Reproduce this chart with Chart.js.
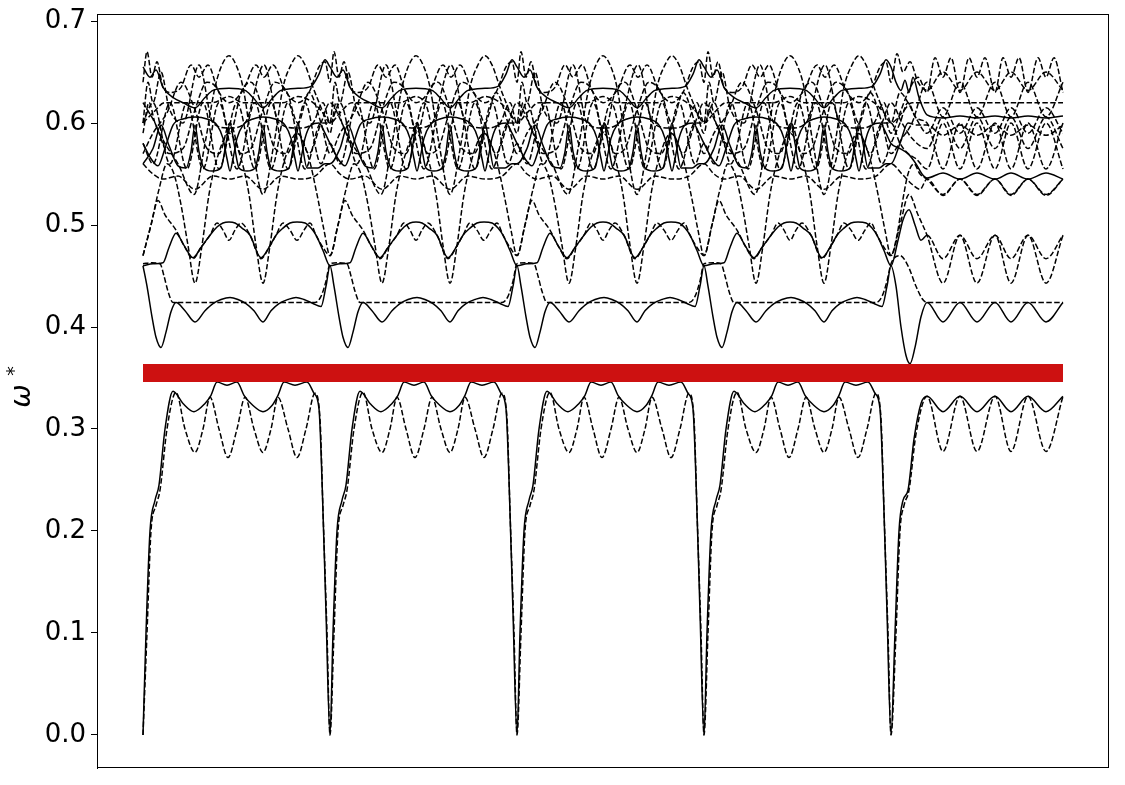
<!DOCTYPE html>
<html>
<head>
<meta charset="utf-8">
<script src="https://cdn.jsdelivr.net/npm/chart.js@4.4.1/dist/chart.umd.min.js"></script>
<style>
  html, body { margin: 0; padding: 0; background: #fff; }
  #wrap { width: 1125px; height: 785px; }
</style>
</head>
<body>
<div id="wrap"><canvas id="bands" width="1125" height="785"></canvas></div>
<script>
// path segments along the x axis (arbitrary k-path units)
const segStart = [0, 187, 374, 561, 749];
const segKind = ['A', 'A', 'A', 'A', 'B'];
const yTicks = [0.0, 0.1, 0.2, 0.3, 0.4, 0.5, 0.6, 0.7];
const gapLevel = 0.355;
const pathEnd = 920;

// --- lowest band, solid / dashed ---
const b1sA = [[0,0],[3,0.1],[7,0.2],[12,0.23],[16,0.245],[22,0.3],[30,0.337],[40,0.325],[51,0.317],[62,0.325],[68,0.333],[74,0.346],[84,0.343],[94,0.346],[101,0.333],[110,0.323],[120,0.317],[129,0.323],[135,0.333],[141,0.346],[152,0.343],[164,0.346],[171,0.335],[176,0.32],[179,0.25],[183,0.12],[187,0]];
const b1sB = [[0,0],[3,0.1],[7,0.2],[11,0.23],[16,0.24],[22,0.29],[29,0.325],[35,0.332],[51,0.317],[68,0.332],[85,0.317],[103,0.332],[119,0.317],[136,0.332],[154,0.317],[171,0.332]];
const b1dA = [[0,0],[4,0.1],[8,0.2],[13,0.225],[17,0.24],[24,0.3],[33,0.336],[42,0.3],[52,0.277],[60,0.3],[67,0.331],[76,0.3],[85,0.272],[94,0.3],[102,0.331],[111,0.3],[120,0.277],[128,0.3],[135,0.331],[145,0.3],[154,0.272],[163,0.3],[172,0.335],[177,0.31],[180,0.22],[184,0.1],[187,0]];
const b1dB = [[0,0],[4,0.1],[8,0.2],[12,0.225],[17,0.24],[24,0.295],[35,0.332],[51,0.278],[68,0.332],[85,0.278],[103,0.332],[119,0.278],[136,0.332],[154,0.278],[171,0.332]];

// --- second band ---
const b2sA = [[0,0.46],[4,0.44],[9,0.41],[13,0.39],[18,0.38],[23,0.395],[28,0.415],[33,0.424],[42,0.416],[52,0.405],[62,0.416],[70,0.423],[78,0.427],[87,0.429],[95,0.427],[103,0.423],[111,0.416],[120,0.405],[128,0.416],[136,0.423],[145,0.427],[153,0.429],[161,0.427],[170,0.423],[178,0.42],[183,0.44],[187,0.46]];
const b2sB = [[0,0.46],[4,0.44],[9,0.4],[14,0.372],[18,0.364],[23,0.38],[29,0.41],[35,0.424],[51,0.405],[68,0.424],[85,0.405],[103,0.424],[119,0.405],[136,0.424],[154,0.405],[171,0.424]];
const b2dA = [[0,0.462],[9,0.463],[17,0.462],[21,0.45],[25,0.435],[30,0.424],[70,0.424],[110,0.424],[150,0.424],[172,0.424],[178,0.43],[183,0.445],[187,0.462]];
const b2dB = [[0,0.462],[8,0.47],[16,0.46],[24,0.44],[30,0.428],[35,0.424],[103,0.424],[171,0.424]];

// --- third band ---
const b3sA = [[0,0.46],[10,0.462],[20,0.463],[26,0.478],[33,0.492],[41,0.48],[50,0.468],[58,0.478],[67,0.49],[74,0.498],[80,0.502],[86,0.503],[92,0.502],[99,0.497],[107,0.49],[118,0.468],[126,0.478],[133,0.49],[140,0.497],[147,0.502],[154,0.503],[162,0.502],[168,0.497],[173,0.49],[180,0.475],[187,0.46]];
const b3sB = [[0,0.46],[6,0.485],[11,0.505],[17,0.515],[23,0.5],[29,0.485],[35,0.49],[51,0.467],[68,0.49],[85,0.467],[103,0.49],[119,0.467],[136,0.49],[154,0.467],[171,0.49]];
const b3daA = [[0,0.47],[8,0.5],[16,0.535],[24,0.56],[31,0.55],[38,0.52],[45,0.48],[52,0.443],[59,0.48],[66,0.53],[74,0.565],[86,0.59],[98,0.565],[106,0.53],[113,0.48],[120,0.443],[127,0.48],[134,0.53],[142,0.565],[154,0.59],[166,0.565],[174,0.53],[181,0.495],[187,0.47]];
const b3daB = [[0,0.47],[8,0.5],[17,0.53],[26,0.51],[35,0.49],[51,0.443],[68,0.49],[85,0.443],[103,0.49],[119,0.443],[136,0.49],[154,0.443],[171,0.49]];
const b3dbA = [[0,0.47],[8,0.5],[15,0.524],[22,0.51],[33,0.495],[42,0.478],[50,0.467],[58,0.478],[67,0.49],[74,0.502],[80,0.495],[86,0.485],[92,0.495],[98,0.502],[107,0.49],[118,0.467],[126,0.478],[133,0.49],[140,0.502],[147,0.495],[154,0.485],[161,0.495],[167,0.502],[173,0.49],[180,0.478],[187,0.47]];
const b3dbB = [[0,0.47],[5,0.49],[10,0.52],[16,0.55],[22,0.56],[28,0.55],[35,0.545],[51,0.53],[68,0.545],[85,0.53],[103,0.545],[119,0.53],[136,0.545],[154,0.53],[171,0.545]];

// --- upper tangle ---
const t1A = [[0,0.59],[6,0.62],[12,0.6],[22,0.58],[35,0.56],[51,0.53],[62,0.58],[72,0.635],[79,0.657],[86,0.666],[93,0.657],[100,0.635],[109,0.58],[120,0.53],[131,0.58],[140,0.635],[148,0.657],[155,0.666],[162,0.657],[170,0.635],[180,0.61],[187,0.59]];
const t1B = [[0,0.59],[8,0.61],[16,0.63],[26,0.645],[35,0.63],[43,0.664],[51,0.645],[59,0.664],[68,0.63],[77,0.664],[85,0.645],[93,0.664],[103,0.63],[111,0.664],[119,0.645],[127,0.664],[136,0.63],[146,0.664],[154,0.645],[162,0.664],[171,0.63]];
const t2A = [[0,0.64],[4,0.67],[9,0.645],[14,0.66],[20,0.635],[28,0.63],[38,0.635],[48,0.657],[56,0.645],[65,0.657],[75,0.632],[86,0.62],[100,0.632],[113,0.657],[121,0.645],[130,0.657],[142,0.632],[155,0.62],[166,0.63],[176,0.655],[182,0.66],[187,0.64]];
const t2B = [[0,0.64],[5,0.668],[11,0.65],[18,0.66],[26,0.64],[35,0.632],[51,0.65],[68,0.632],[85,0.65],[103,0.632],[119,0.65],[136,0.632],[154,0.65],[171,0.632]];
const t3A = [[0,0.655],[7,0.645],[13,0.652],[20,0.635],[30,0.625],[40,0.62],[52,0.615],[62,0.625],[70,0.632],[86,0.634],[102,0.632],[110,0.625],[120,0.615],[130,0.625],[138,0.632],[155,0.634],[168,0.636],[176,0.648],[182,0.662],[187,0.655]];
const t3B = [[0,0.655],[4,0.64],[9,0.632],[13,0.642],[17,0.63],[21,0.645],[27,0.625],[35,0.608],[51,0.605],[68,0.607],[85,0.605],[103,0.607],[119,0.605],[136,0.607],[154,0.605],[171,0.607]];
const t4A = [[0,0.6],[10,0.61],[22,0.62],[52,0.62],[70,0.62],[86,0.626],[100,0.62],[120,0.62],[140,0.62],[155,0.626],[170,0.62],[180,0.61],[187,0.6]];
const t4B = [[0,0.6],[10,0.61],[20,0.62],[35,0.62],[68,0.62],[103,0.62],[136,0.62],[171,0.62]];
const saA = [[0,0.58],[8,0.565],[15,0.558],[22,0.575],[30,0.598],[40,0.604],[52,0.606],[64,0.604],[74,0.598],[80,0.585],[84,0.565],[87,0.553],[90,0.565],[94,0.585],[100,0.598],[110,0.604],[120,0.606],[132,0.604],[142,0.598],[148,0.585],[152,0.565],[155,0.553],[158,0.565],[162,0.585],[168,0.598],[176,0.6],[182,0.59],[187,0.58]];
const saB = [[0,0.58],[8,0.575],[16,0.57],[24,0.56],[30,0.55],[35,0.546],[51,0.551],[68,0.545],[85,0.551],[103,0.545],[119,0.551],[136,0.545],[154,0.551],[171,0.545]];
const sbA = [[0,0.56],[10,0.575],[18,0.598],[26,0.578],[35,0.558],[43,0.556],[48,0.572],[52,0.598],[56,0.572],[61,0.556],[69,0.553],[78,0.556],[83,0.58],[87,0.6],[91,0.58],[96,0.556],[104,0.553],[112,0.556],[116,0.572],[120,0.598],[124,0.572],[128,0.556],[137,0.553],[146,0.556],[151,0.58],[155,0.6],[159,0.58],[164,0.556],[175,0.556],[182,0.56],[187,0.56]];
const sbB = [[0,0.56],[8,0.58],[16,0.6],[25,0.598],[35,0.598],[51,0.588],[68,0.598],[85,0.588],[103,0.598],[119,0.588],[136,0.598],[154,0.588],[171,0.598]];
const d1A = [[0,0.56],[10,0.55],[20,0.545],[35,0.548],[52,0.535],[70,0.548],[86,0.545],[102,0.548],[120,0.535],[138,0.548],[155,0.545],[172,0.548],[187,0.56]];
const d1B = [[0,0.56],[10,0.55],[20,0.54],[28,0.535],[35,0.545],[51,0.529],[68,0.545],[85,0.529],[103,0.545],[119,0.529],[136,0.545],[154,0.529],[171,0.545]];
const d2A = [[0,0.58],[10,0.56],[27,0.62],[44,0.555],[60,0.62],[76,0.555],[94,0.62],[112,0.555],[128,0.62],[145,0.555],[162,0.62],[178,0.56],[187,0.58]];
const d2B = [[0,0.58],[8,0.6],[16,0.62],[24,0.605],[35,0.6],[51,0.555],[68,0.6],[85,0.555],[103,0.6],[119,0.555],[136,0.6],[154,0.555],[171,0.6]];
const d3A = [[0,0.6],[10,0.62],[27,0.56],[44,0.62],[60,0.555],[76,0.62],[94,0.555],[112,0.62],[128,0.555],[145,0.62],[162,0.555],[178,0.6],[187,0.6]];
const d3B = [[0,0.6],[8,0.58],[16,0.57],[24,0.565],[35,0.555],[51,0.6],[68,0.555],[85,0.6],[103,0.555],[119,0.6],[136,0.555],[154,0.6],[171,0.555]];
const d4A = [[0,0.6],[5,0.64],[10,0.62],[18,0.65],[26,0.615],[40,0.6],[56,0.657],[70,0.6],[86,0.595],[102,0.6],[121,0.657],[136,0.6],[155,0.595],[170,0.6],[180,0.62],[187,0.6]];
const d4B = [[0,0.6],[8,0.63],[16,0.62],[24,0.605],[35,0.59],[51,0.615],[68,0.59],[85,0.615],[103,0.59],[119,0.615],[136,0.59],[154,0.615],[171,0.59]];
const d5A = [[0,0.62],[12,0.6],[26,0.57],[40,0.575],[52,0.613],[64,0.64],[76,0.63],[87,0.59],[98,0.63],[108,0.64],[120,0.613],[132,0.575],[144,0.57],[155,0.59],[166,0.57],[178,0.6],[187,0.62]];
const d5B = [[0,0.62],[10,0.6],[20,0.585],[35,0.575],[51,0.606],[68,0.575],[85,0.606],[103,0.575],[119,0.606],[136,0.575],[154,0.606],[171,0.575]];
const d6A = [[0,0.57],[10,0.59],[24,0.61],[38,0.64],[52,0.613],[64,0.575],[76,0.57],[87,0.6],[98,0.57],[108,0.575],[120,0.613],[132,0.64],[144,0.63],[155,0.6],[166,0.63],[178,0.6],[187,0.57]];
const d6B = [[0,0.57],[10,0.585],[20,0.6],[35,0.64],[51,0.606],[68,0.64],[85,0.606],[103,0.64],[119,0.606],[136,0.64],[154,0.606],[171,0.64]];

// which lines are solid / dashed (solids first so they sit on top)
const lines = [
  { a: b1sA, b: b1sB, dashA: false, dashB: false },
  { a: b2sA, b: b2sB, dashA: false, dashB: false },
  { a: b3sA, b: b3sB, dashA: false, dashB: true, switchB: 35 },
  { a: t3A, b: t3B, dashA: false, dashB: false },
  { a: saA, b: saB, dashA: false, dashB: false },
  { a: sbA, b: sbB, dashA: false, dashB: true, switchB: 16 },
  { a: b1dA, b: b1dB, dashA: true, dashB: true },
  { a: b2dA, b: b2dB, dashA: true, dashB: true },
  { a: b3daA, b: b3daB, dashA: true, dashB: true },
  { a: b3dbA, b: b3dbB, dashA: true, dashB: true },
  { a: t1A, b: t1B, dashA: true, dashB: true },
  { a: t2A, b: t2B, dashA: true, dashB: true },
  { a: t4A, b: t4B, dashA: true, dashB: true },
  { a: d1A, b: d1B, dashA: true, dashB: true },
  { a: d2A, b: d2B, dashA: true, dashB: true },
  { a: d3A, b: d3B, dashA: true, dashB: true },
  { a: d4A, b: d4B, dashA: true, dashB: true },
  { a: d5A, b: d5B, dashA: true, dashB: true },
  { a: d6A, b: d6B, dashA: true, dashB: true }
];

const DASH = [5.5, 2.4];
const lastStart = segStart[segStart.length - 1];

function buildPoints(line) {
  const pts = [];
  segStart.forEach((x0, i) => {
    const tpl = segKind[i] === 'A' ? line.a : line.b;
    tpl.forEach((p, j) => {
      if (i > 0 && j === 0) return; // shared with end of previous segment
      pts.push({ x: x0 + p[0], y: p[1] });
    });
  });
  return pts;
}

const datasets = [{
  data: [{ x: 0, y: gapLevel }, { x: pathEnd, y: gapLevel }],
  borderColor: '#cd1111',
  borderWidth: 18,
  borderCapStyle: 'butt',
  pointRadius: 0,
  tension: 0
}];

lines.forEach(line => {
  datasets.push({
    data: buildPoints(line),
    borderColor: '#000',
    borderWidth: 1.5,
    pointRadius: 0,
    fill: false,
    cubicInterpolationMode: 'monotone',
    segment: {
      borderDash: ctx => {
        const inB = ctx.p0.parsed.x >= lastStart + (line.switchB || 0);
        return (inB ? line.dashB : line.dashA) ? DASH : [];
      }
    }
  });
});

// frame box + rotated y label with superscript
const frameAndLabel = {
  id: 'frameAndLabel',
  afterDraw(chart) {
    const { ctx, chartArea: a } = chart;
    ctx.save();
    ctx.strokeStyle = '#000';
    ctx.lineWidth = 1;
    ctx.strokeRect(a.left + 0.5, a.top + 0.5, a.right - a.left - 1, a.bottom - a.top - 1);

    ctx.translate(30, 396);
    ctx.rotate(-Math.PI / 2);
    ctx.fillStyle = '#000';
    ctx.textAlign = 'center';
    ctx.textBaseline = 'alphabetic';
    ctx.font = 'italic 28px "DejaVu Sans"';
    ctx.fillText('ω', 0, 0);
    ctx.font = '19px "DejaVu Sans"';
    ctx.fillText('*', 25, -10);
    ctx.restore();
  }
};

new Chart(document.getElementById('bands'), {
  type: 'line',
  data: { datasets },
  options: {
    responsive: false,
    animation: false,
    devicePixelRatio: 1,
    layout: { autoPadding: false, padding: { left: 0, right: 16, top: 14, bottom: 17 } },
    plugins: { legend: { display: false }, tooltip: { enabled: false } },
    scales: {
      x: { type: 'linear', min: -46, max: 966, display: false },
      y: {
        type: 'linear',
        min: -0.0324,
        max: 0.7069,
        afterBuildTicks: s => { s.ticks = yTicks.map(v => ({ value: v })); },
        afterFit: s => { s.width = 97; s.paddingTop = 0; s.paddingBottom = 0; },
        ticks: {
          callback: v => Number(v).toFixed(1),
          font: { family: 'DejaVu Sans', size: 26 },
          color: '#000',
          padding: 5
        },
        grid: { display: true, drawOnChartArea: false, drawTicks: true, tickLength: 6, color: '#000', lineWidth: 1 },
        border: { display: true, color: '#000', width: 1 }
      }
    }
  },
  plugins: [frameAndLabel]
});
</script>
</body>
</html>
